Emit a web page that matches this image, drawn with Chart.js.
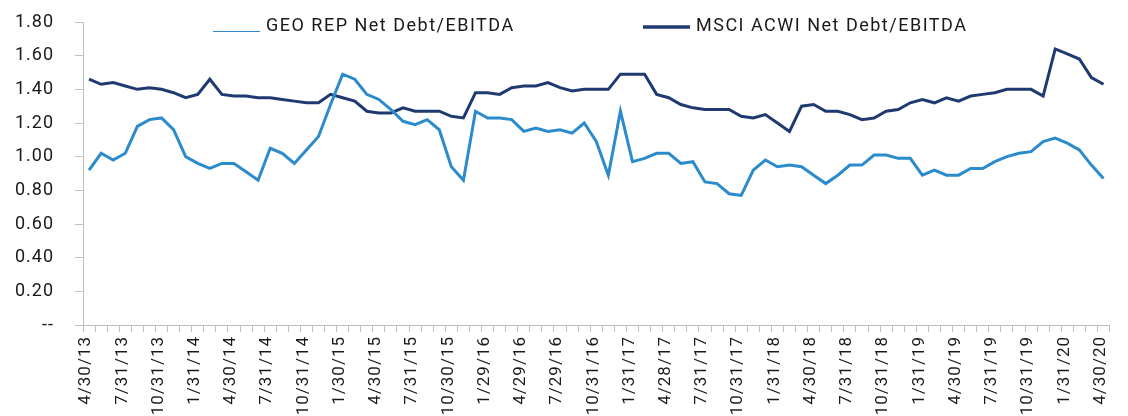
<!DOCTYPE html>
<html>
<head>
<meta charset="utf-8">
<script src="https://cdn.jsdelivr.net/npm/chart.js@4/dist/chart.umd.min.js"></script>
<style>
  html, body { margin: 0; padding: 0; background: #fff; }
  #wrap { width: 1128px; height: 416px; }
</style>
</head>
<body>
<div id="wrap"><canvas id="myChart" width="1128" height="416"></canvas></div>
<script>
// month-end dates, Apr 2013 - Apr 2020
var dates = [
  '4/30/13','5/31/13','6/28/13','7/31/13','8/30/13','9/30/13','10/31/13','11/29/13','12/31/13',
  '1/31/14','2/28/14','3/31/14','4/30/14','5/30/14','6/30/14','7/31/14','8/29/14','9/30/14','10/31/14','11/28/14','12/31/14',
  '1/30/15','2/27/15','3/31/15','4/30/15','5/29/15','6/30/15','7/31/15','8/31/15','9/30/15','10/30/15','11/30/15','12/31/15',
  '1/29/16','2/29/16','3/31/16','4/29/16','5/31/16','6/30/16','7/29/16','8/31/16','9/30/16','10/31/16','11/30/16','12/30/16',
  '1/31/17','2/28/17','3/31/17','4/28/17','5/31/17','6/30/17','7/31/17','8/31/17','9/29/17','10/31/17','11/30/17','12/29/17',
  '1/31/18','2/28/18','3/29/18','4/30/18','5/31/18','6/29/18','7/31/18','8/31/18','9/28/18','10/31/18','11/30/18','12/31/18',
  '1/31/19','2/28/19','3/29/19','4/30/19','5/31/19','6/28/19','7/31/19','8/30/19','9/30/19','10/31/19','11/29/19','12/31/19',
  '1/31/20','2/28/20','3/31/20','4/30/20'
];

var geoRep = [
  0.92, 1.02, 0.98, 1.02, 1.18, 1.22, 1.23, 1.16, 1.00, 0.96, 0.93, 0.96, 0.96, 0.91, 0.86, 1.05, 1.02,
  0.96, 1.04, 1.12, 1.31, 1.49, 1.46, 1.37, 1.34, 1.28, 1.21, 1.19, 1.22, 1.16, 0.94, 0.86, 1.27, 1.23,
  1.23, 1.22, 1.15, 1.17, 1.15, 1.16, 1.14, 1.20, 1.09, 0.89, 1.27, 0.97, 0.99, 1.02, 1.02, 0.96, 0.97,
  0.85, 0.84, 0.78, 0.77, 0.92, 0.98, 0.94, 0.95, 0.94, 0.89, 0.84, 0.89, 0.95, 0.95, 1.01, 1.01, 0.99,
  0.99, 0.89, 0.92, 0.89, 0.89, 0.93, 0.93, 0.97, 1.00, 1.02, 1.03, 1.09, 1.11, 1.08, 1.04, 0.95, 0.87
];

var msciAcwi = [
  1.46, 1.43, 1.44, 1.42, 1.40, 1.41, 1.40, 1.38, 1.35, 1.37, 1.46, 1.37, 1.36, 1.36, 1.35, 1.35, 1.34,
  1.33, 1.32, 1.32, 1.37, 1.35, 1.33, 1.27, 1.26, 1.26, 1.29, 1.27, 1.27, 1.27, 1.24, 1.23, 1.38, 1.38,
  1.37, 1.41, 1.42, 1.42, 1.44, 1.41, 1.39, 1.40, 1.40, 1.40, 1.49, 1.49, 1.49, 1.37, 1.35, 1.31, 1.29,
  1.28, 1.28, 1.28, 1.24, 1.23, 1.25, 1.20, 1.15, 1.30, 1.31, 1.27, 1.27, 1.25, 1.22, 1.23, 1.27, 1.28,
  1.32, 1.34, 1.32, 1.35, 1.33, 1.36, 1.37, 1.38, 1.40, 1.40, 1.40, 1.36, 1.64, 1.61, 1.58, 1.47, 1.43
];

var seriesNames = ['GEO REP Net Debt/EBITDA', 'MSCI ACWI Net Debt/EBITDA'];
var yTicks = [0, 0.2, 0.4, 0.6, 0.8, 1.0, 1.2, 1.4, 1.6, 1.8];

var FONT = 'Roboto';
var axisGrey = '#bfbfbf';

// the original font is a wide DIN face, so space the letters out a bit
var spacing = {
  id: 'spacing',
  beforeDraw: function(chart) { chart.ctx.letterSpacing = '1px'; },
  afterDraw: function(chart) { chart.ctx.letterSpacing = '0px'; }
};

// legend drawn at the top, overlapping the plot like the original
var topLegend = {
  id: 'topLegend',
  afterDraw: function(chart) {
    var ctx = chart.ctx;
    var starts = [213, 643];
    var lineY = [31.5, 27];
    ctx.save();
    ctx.letterSpacing = '1.5px';
    ctx.font = '18px ' + FONT;
    ctx.textBaseline = 'middle';
    ctx.fillStyle = '#1a1a1a';
    chart.data.datasets.forEach(function(ds, i) {
      var x = starts[i];
      ctx.beginPath();
      ctx.strokeStyle = ds.borderColor;
      ctx.lineWidth = i === 0 ? 1 : 3.5;
      ctx.moveTo(x, lineY[i]);
      ctx.lineTo(x + 47, lineY[i]);
      ctx.stroke();
      ctx.fillText(ds.label, x + 53, 26);
    });
    ctx.restore();
  }
};

var ctx = document.getElementById('myChart').getContext('2d');
var chart = new Chart(ctx, {
  type: 'line',
  data: {
    labels: dates,
    datasets: [{
      label: seriesNames[0],
      data: geoRep,
      borderColor: '#2b8bcb',
      borderWidth: 3,
      pointRadius: 0,
      tension: 0
    }, {
      label: seriesNames[1],
      data: msciAcwi,
      borderColor: '#1f3a70',
      borderWidth: 3,
      pointRadius: 0,
      tension: 0
    }]
  },
  options: {
    responsive: false,
    animation: false,
    layout: { padding: { top: 22, right: 17, left: 0, bottom: 0 } },
    plugins: {
      legend: { display: false },
      tooltip: { enabled: false }
    },
    scales: {
      x: {
        offset: true,
        grid: {
          display: true,
          offset: true,
          drawOnChartArea: false,
          tickLength: 7,
          color: axisGrey
        },
        border: { color: axisGrey, width: 1 },
        ticks: {
          autoSkip: false,
          maxRotation: 90,
          minRotation: 90,
          padding: 4,
          labelOffset: -3,
          color: '#1a1a1a',
          font: { family: FONT, size: 17 },
          callback: function(v, i) { return i % 3 === 0 ? dates[i] : ''; }
        },
        afterFit: function(s) { s.height = 91; }
      },
      y: {
        min: 0,
        max: 1.8,
        afterBuildTicks: function(s) {
          s.ticks = yTicks.map(function(v) { return { value: v }; });
        },
        grid: {
          display: true,
          drawOnChartArea: false,
          tickLength: 8,
          color: axisGrey
        },
        border: { color: axisGrey, width: 1 },
        ticks: {
          padding: 21,
          color: '#1a1a1a',
          font: { family: FONT, size: 18 },
          callback: function(v) { return v === 0 ? '--' : v.toFixed(2); }
        },
        afterFit: function(s) {
          s.width = 83;
          s.paddingTop = 10;
          s.paddingBottom = 10;
        }
      }
    }
  },
  plugins: [spacing, topLegend]
});
</script>
</body>
</html>
